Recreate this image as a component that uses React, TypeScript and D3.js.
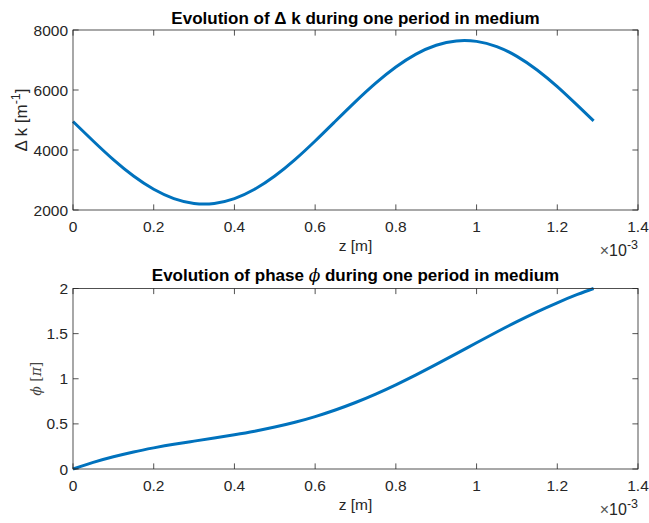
import React from "react";
import * as d3 from "d3";

const zValues = [0, 0.05, 0.1, 0.15, 0.2, 0.25, 0.3, 0.35, 0.4, 0.45, 0.5, 0.55, 0.6, 0.65, 0.7, 0.75, 0.8, 0.85, 0.9, 0.95, 1.0, 1.05, 1.1, 1.15, 1.2, 1.25, 1.29];
const deltaK = [4950, 4300, 3679, 3131, 2690, 2380, 2220, 2220, 2380, 2690, 3131, 3679, 4300, 4958, 5614, 6230, 6768, 7198, 7493, 7637, 7621, 7446, 7122, 6668, 6112, 5485, 4970];
const phase = [0, 0.073, 0.135, 0.189, 0.234, 0.274, 0.309, 0.344, 0.38, 0.419, 0.465, 0.518, 0.581, 0.654, 0.737, 0.83, 0.933, 1.043, 1.159, 1.278, 1.399, 1.518, 1.633, 1.742, 1.842, 1.934, 2.0];

const xTicks = [0, 0.2, 0.4, 0.6, 0.8, 1, 1.2, 1.4];
const dkTicks = [2000, 4000, 6000, 8000];
const phiTicks = [0, 0.5, 1, 1.5, 2];

const FONT = "'Liberation Sans', Arial, Helvetica, sans-serif";
const SERIF = "'DejaVu Serif', 'Liberation Serif', serif";
const TXT = "#262626";
const AX = "#262626";
const LINE = "#0072BD";

const L = 73, R = 638;
const TL = 5.6;

function Axes({ top, bottom, yDomain, yTicks, values, yFmt }: any) {
  const x = d3.scaleLinear().domain([0, 1.4]).range([L, R]);
  const y = d3.scaleLinear().domain(yDomain).range([bottom, top]);
  const line = d3.line<number>().x((_, i) => x(zValues[i])).y((d) => y(d)).curve(d3.curveNatural);
  return (
    <g>
      <path d={line(values) || ""} fill="none" stroke={LINE} strokeWidth={3} strokeLinejoin="round" strokeLinecap="butt" />
      <rect x={L} y={top} width={R - L} height={bottom - top} fill="none" stroke={AX} strokeWidth={0.8} />
      {xTicks.map((t) => (
        <g key={"x" + t}>
          <line x1={x(t)} x2={x(t)} y1={bottom} y2={bottom - TL} stroke={AX} strokeWidth={0.8} />
          <line x1={x(t)} x2={x(t)} y1={top} y2={top + TL} stroke={AX} strokeWidth={0.8} />
          <text x={x(t)} y={bottom + 22} textAnchor="middle" fontFamily={FONT} fontSize={15.5} fill={TXT}>{t}</text>
        </g>
      ))}
      {yTicks.map((t: number) => (
        <g key={"y" + t}>
          <line x1={L} x2={L + TL} y1={y(t)} y2={y(t)} stroke={AX} strokeWidth={0.8} />
          <line x1={R} x2={R - TL} y1={y(t)} y2={y(t)} stroke={AX} strokeWidth={0.8} />
          <text x={L - 5} y={y(t)} dy="0.36em" textAnchor="end" fontFamily={FONT} fontSize={15.5} fill={TXT}>{yFmt(t)}</text>
        </g>
      ))}
      <text x={(L + R) / 2} y={bottom + 41} textAnchor="middle" fontFamily={FONT} fontSize={15.5} fill={TXT}>z [m]</text>
      <text x={R} y={bottom + 46} textAnchor="end" fontFamily={FONT} fontSize={16} fill={TXT}>
        <tspan fill="#555">×</tspan>10<tspan dy={-7} fontSize={12.5}>-3</tspan>
      </text>
    </g>
  );
}

export default function App() {
  const t1 = 30, b1 = 210, t2 = 288.5, b2 = 469;
  return (
    <svg width={649} height={523} style={{ position: "absolute", left: 0, top: 0, background: "#fff" }}>
      <rect width={649} height={523} fill="#fff" />
      <text x={(L + R) / 2} y={23.5} textAnchor="middle" fontFamily={FONT} fontSize={17} fontWeight="bold" fill="#000">
        Evolution of Δ k during one period in medium
      </text>
      <Axes top={t1} bottom={b1} yDomain={[2000, 8000]} yTicks={dkTicks} values={deltaK} yFmt={(t: number) => String(t)} />
      <text transform={`translate(26.5, ${(t1 + b1) / 2}) rotate(-90)`} textAnchor="middle" fontFamily={FONT} fontSize={17} fill={TXT}>
        Δ k [m<tspan dy={-7} fontSize={12.5}>-1</tspan><tspan dy={7}>]</tspan>
      </text>

      <text x={(L + R) / 2} y={280.5} textAnchor="middle" fontFamily={FONT} fontSize={17} fontWeight="bold" fill="#000">
        Evolution of phase <tspan fontFamily={SERIF} fontStyle="italic" fontWeight="normal">ϕ</tspan> during one period in medium
      </text>
      <Axes top={t2} bottom={b2} yDomain={[0, 2]} yTicks={phiTicks} values={phase} yFmt={(t: number) => String(t)} />
      <text transform={`translate(40.5, ${(t2 + b2) / 2}) rotate(-90)`} textAnchor="middle" fontFamily={SERIF} fontSize={14} fill="#444">
        <tspan fontStyle="italic">ϕ</tspan> [<tspan fontStyle="italic">π</tspan>]
      </text>
    </svg>
  );
}
